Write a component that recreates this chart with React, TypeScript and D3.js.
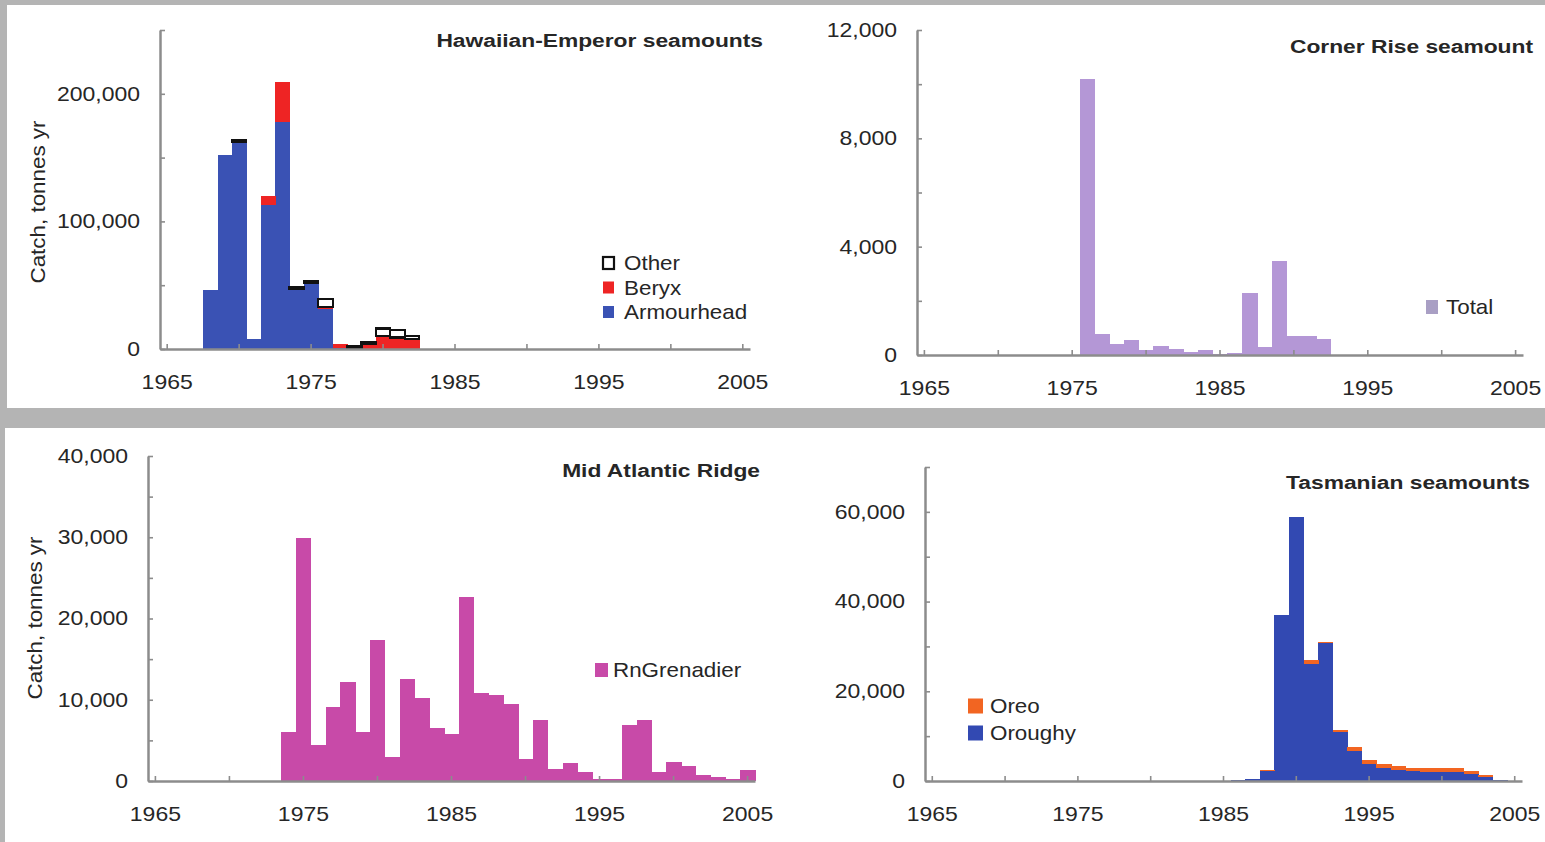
import React, { useEffect, useRef } from "react";
import * as d3 from "d3";

// x categories, one band per year
const firstYear = 1965;
const lastYear = 2005;

// Hawaiian-Emperor seamounts (stacked: Armourhead, Beryx, Other)
const hawaiiYears = [1968, 1969, 1970, 1971, 1972, 1973, 1974, 1975, 1976, 1977, 1978, 1979, 1980, 1981, 1982];
const armourhead = [46000, 152000, 162000, 8000, 113000, 178000, 47000, 52000, 31000, 1000, 0, 0, 0, 0, 0];
const beryx = [0, 0, 0, 0, 7000, 31000, 0, 0, 2000, 3000, 500, 4000, 10000, 9000, 8000];
const otherHawaii = [0, 0, 1500, 0, 0, 0, 1500, 1500, 6000, 0, 2000, 1500, 6000, 6000, 2500];

// Corner Rise seamount (Total)
const cornerYears = [1976, 1977, 1978, 1979, 1980, 1981, 1982, 1983, 1984, 1985, 1986, 1987, 1988, 1989, 1990, 1991, 1992];
const cornerTotal = [10200, 780, 400, 550, 180, 330, 230, 110, 180, 30, 60, 2300, 300, 3470, 700, 720, 600];

// Mid Atlantic Ridge (RnGrenadier)
const midAtlYears = [1974, 1975, 1976, 1977, 1978, 1979, 1980, 1981, 1982, 1983, 1984, 1985, 1986, 1987, 1988, 1989,
  1990, 1991, 1992, 1993, 1994, 1995, 1996, 1997, 1998, 1999, 2000, 2001, 2002, 2003, 2004, 2005];
const grenadier = [6000, 29900, 4400, 9100, 12200, 6000, 17400, 2900, 12500, 10200, 6500, 5800, 22600, 10800, 10600, 9500,
  2700, 7500, 1500, 2200, 1100, 300, 300, 6900, 7500, 1100, 2300, 1800, 700, 500, 300, 1400];

// Tasmanian seamounts (stacked: Oroughy, Oreo)
const tasYears = [1986, 1987, 1988, 1989, 1990, 1991, 1992, 1993, 1994, 1995, 1996, 1997, 1998, 1999, 2000, 2001, 2002, 2003, 2004];
const oroughy = [200, 500, 2300, 37000, 58800, 26000, 30700, 10900, 6600, 3700, 2800, 2500, 2200, 2000, 2000, 2000, 1500, 800, 200];
const oreo = [0, 0, 200, 0, 0, 1000, 300, 500, 1000, 1000, 1000, 800, 800, 800, 800, 800, 700, 600, 100];

const FONT = "'Liberation Sans', Arial, Helvetica, sans-serif";
const AXIS = "#8c8c8c";
const INK = "#262626";

const panels = [
  {
    title: "Hawaiian-Emperor seamounts", titleX: 763, titleY: 40,
    x0: 160, x1: 750, y0: 349, y1: 30, yMax: 250000, step: 50000, labelStep: 100000,
    yLabel: { x: 38, y: 202 },
    years: hawaiiYears,
    series: [
      { name: "Armourhead", values: armourhead, fill: "#3a52b4", stroke: "none" },
      { name: "Beryx", values: beryx, fill: "#ee2424", stroke: "none" },
      { name: "Other", values: otherHawaii, fill: "#ffffff", stroke: "#111" },
    ],
    legend: { x: 603, y: 263, gap: 24.5, order: ["Other", "Beryx", "Armourhead"], sw: 11, sh: 12, tx: 624 },
  },
  {
    title: "Corner Rise seamount", titleX: 1533, titleY: 46,
    x0: 917, x1: 1523, y0: 355, y1: 30, yMax: 12000, step: 2000, labelStep: 4000,
    yLabel: null,
    years: cornerYears,
    series: [{ name: "Total", values: cornerTotal, fill: "#b497d6", stroke: "none", swatch: "#a99fc4" }],
    legend: { x: 1426, y: 307, gap: 0, order: ["Total"], sw: 12, sh: 14, tx: 1446 },
  },
  {
    title: "Mid Atlantic Ridge", titleX: 760, titleY: 470,
    x0: 148, x1: 755, y0: 781, y1: 456, yMax: 40000, step: 5000, labelStep: 10000,
    yLabel: { x: 35, y: 618 },
    years: midAtlYears,
    series: [{ name: "RnGrenadier", values: grenadier, fill: "#c84aa8", stroke: "none" }],
    legend: { x: 595, y: 670, gap: 0, order: ["RnGrenadier"], sw: 13, sh: 14, tx: 613 },
  },
  {
    title: "Tasmanian seamounts", titleX: 1530, titleY: 482,
    x0: 925, x1: 1522, y0: 781, y1: 467, yMax: 70000, step: 10000, labelStep: 20000,
    yLabel: null,
    years: tasYears,
    series: [
      { name: "Oroughy", values: oroughy, fill: "#3249b2", stroke: "none" },
      { name: "Oreo", values: oreo, fill: "#f26522", stroke: "none" },
    ],
    legend: { x: 968, y: 706, gap: 27, order: ["Oreo", "Oroughy"], sw: 15, sh: 15, tx: 990 },
  },
];

// draw text stretched horizontally, like the reference's wide lettering
function stretchedText(g, x, y, str, size, sx, opts: any = {}) {
  const rot = opts.rotate ? ` rotate(${opts.rotate})` : "";
  return g.append("text")
    .attr("transform", `translate(${x},${y})${rot} scale(${sx},1)`)
    .attr("dy", "0.35em")
    .attr("text-anchor", opts.anchor || "start")
    .attr("font-family", FONT)
    .attr("font-size", size)
    .attr("font-weight", opts.bold ? "bold" : "normal")
    .attr("fill", INK)
    .text(str);
}

function drawPanel(svg, p) {
  const allYears = d3.range(firstYear, lastYear + 1);
  const x = d3.scaleBand<number>().domain(allYears).range([p.x0, p.x1]).padding(0);
  const y = d3.scaleLinear().domain([0, p.yMax]).range([p.y0, p.y1]);

  const rows = p.years.map((yr, i) => {
    const r: any = { year: yr };
    p.series.forEach((s) => (r[s.name] = s.values[i]));
    return r;
  });
  const stacked = d3.stack().keys(p.series.map((s) => s.name))(rows);

  const g = svg.append("g");

  stacked.forEach((layer, li) => {
    const s = p.series[li];
    g.append("g")
      .attr("shape-rendering", "crispEdges")
      .selectAll("rect")
      .data(layer.filter((d) => d[1] - d[0] > 0))
      .enter()
      .append("rect")
      .attr("x", (d) => x(d.data.year))
      .attr("width", x.bandwidth() + (s.stroke === "none" ? 0.6 : 0))
      .attr("y", (d) => y(d[1]))
      .attr("height", (d) => y(d[0]) - y(d[1]))
      .attr("fill", s.fill)
      .attr("stroke", s.stroke)
      .attr("stroke-width", s.stroke === "none" ? 0 : 2.2);
  });

  const SX = 1.15;

  // y axis
  const yAxis = g.append("g")
    .attr("transform", `translate(${p.x0},0)`)
    .call(
      d3.axisLeft(y)
        .tickValues(d3.range(0, p.yMax + 1, p.step))
        .tickSize(-5)
        .tickSizeOuter(0)
        .tickPadding(20)
        .tickFormat((v) => (+v % p.labelStep === 0 ? d3.format(",")(+v) : ""))
    );

  // x axis
  const xAxis = g.append("g")
    .attr("transform", `translate(0,${p.y0})`)
    .call(
      d3.axisBottom(x)
        .tickValues(allYears.filter((yr) => yr % 5 === 0))
        .tickSize(-5)
        .tickSizeOuter(0)
        .tickPadding(26)
        .tickFormat((yr) => (yr % 10 === 5 ? String(yr) : ""))
    );

  [yAxis, xAxis].forEach((ax) => {
    ax.select(".domain").attr("stroke", AXIS).attr("stroke-width", 2.5);
    ax.selectAll(".tick line").attr("stroke", AXIS).attr("stroke-width", 1.6);
    ax.selectAll(".tick text")
      .attr("font-family", FONT)
      .attr("font-size", 20)
      .attr("fill", INK)
      .each(function () {
        const t = d3.select(this);
        const xx = +t.attr("x") || 0;
        t.attr("x", xx / SX).attr("transform", `scale(${SX},1)`);
      });
  });

  // title
  stretchedText(g, p.titleX, p.titleY, p.title, 19, 1.2, { anchor: "end", bold: true });

  // y label
  if (p.yLabel) {
    stretchedText(g, p.yLabel.x, p.yLabel.y, "Catch, tonnes yr", 20, 1.12, { anchor: "middle", rotate: -90 });
  }

  // legend
  const lg = p.legend;
  lg.order.forEach((name, i) => {
    const s = p.series.find((q) => q.name === name);
    const cy = lg.y + i * lg.gap;
    g.append("rect")
      .attr("x", lg.x)
      .attr("y", cy - lg.sh / 2)
      .attr("width", lg.sw)
      .attr("height", lg.sh)
      .attr("fill", s.swatch || s.fill)
      .attr("stroke", s.stroke)
      .attr("stroke-width", s.stroke === "none" ? 0 : 2.2);
    stretchedText(g, lg.tx, cy, name, 20, 1.12);
  });
}

const App = () => {
  const ref = useRef(null);

  useEffect(() => {
    const svg = d3.select(ref.current);
    svg.selectAll("*").remove();

    // frame: grey background with two white strips
    svg.append("rect").attr("width", 1545).attr("height", 842).attr("fill", "#b4b4b4");
    svg.append("rect").attr("x", 7).attr("y", 5).attr("width", 1538).attr("height", 403).attr("fill", "#ffffff");
    svg.append("rect").attr("x", 5).attr("y", 428).attr("width", 1540).attr("height", 414).attr("fill", "#ffffff");

    panels.forEach((p) => drawPanel(svg, p));
  }, []);

  return (
    <svg
      ref={ref}
      width={1545}
      height={842}
      style={{ position: "absolute", left: 0, top: 0, display: "block" }}
    />
  );
};

export default App;
